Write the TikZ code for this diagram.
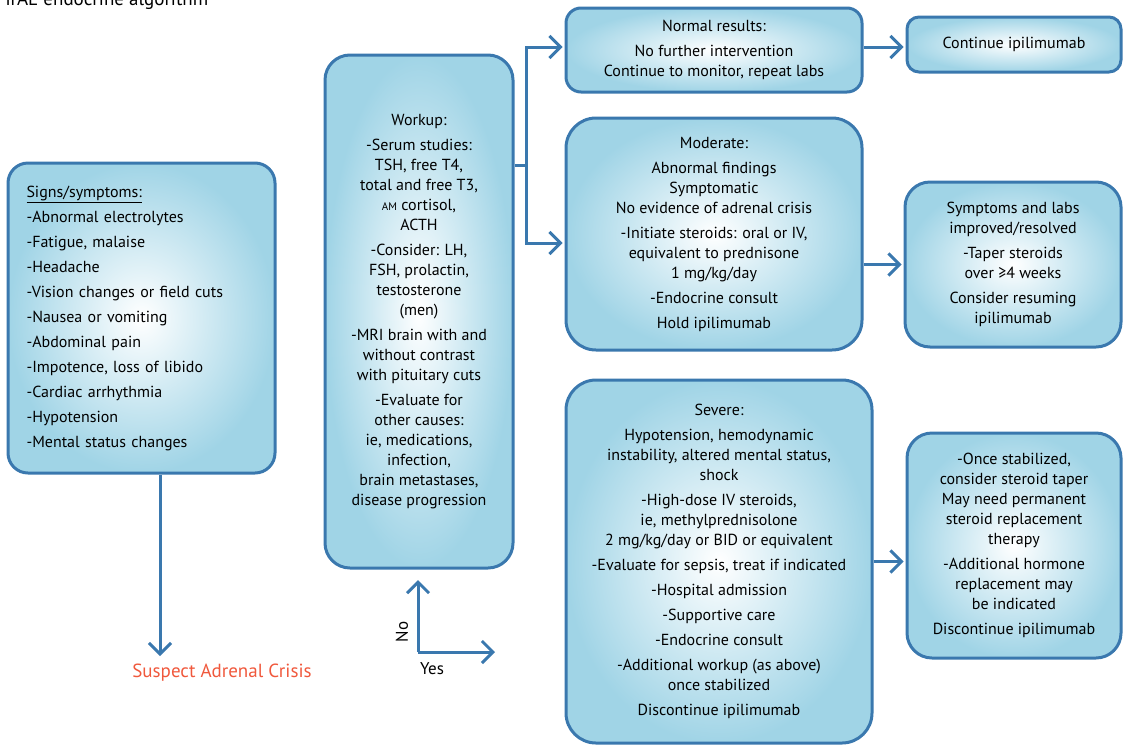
\documentclass[tikz,border=0pt]{standalone}
\usepackage{fontspec}
\setmainfont{PT Sans}
\usetikzlibrary{arrows.meta}
\definecolor{boxline}{RGB}{58,120,174}
\definecolor{boxfill}{RGB}{160,212,230}
\definecolor{crisisred}{RGB}{240,88,60}

\begin{document}
\begin{tikzpicture}[x=1pt, y=-1pt,
    box/.style={draw=boxline, line width=3pt, rounded corners=#1, shading=radial,
      inner color=white, outer color=boxfill, align=center, inner sep=0pt,
      font=\fontsize{16}{20}\selectfont},
    box/.default=20pt,
    arr/.style={draw=boxline, line width=3pt, shorten >=2pt,
      -{Straight Barb[length=11pt,width=22pt]}},
    lin/.style={draw=boxline, line width=3pt}]

    \useasboundingbox (0,0) rectangle (1123,745);

    %TITLE
    \node[anchor=base west, font=\fontsize{19}{19}\selectfont] (title) at (2,5) {irAE endocrine algorithm};

    %BOXES
    \node[box, minimum width=267pt, minimum height=310pt, text width=230pt, align=left,
      font=\fontsize{16}{25}\selectfont] (signs) at (141.5,318) {\underline{Signs/symptoms:}\\
      -Abnormal electrolytes\\ -Fatigue, malaise\\ -Headache\\ -Vision changes or field cuts\\
      -Nausea or vomiting\\ -Abdominal pain\\ -Impotence, loss of libido\\ -Cardiac arrhythmia\\
      -Hypotension\\ -Mental status changes};

    \node[box=25pt, minimum width=188pt, minimum height=513pt] (workup) at (419,311.5) {Workup:\\[5pt]
      -Serum studies:\\ TSH, free T4,\\ total and free T3,\\ {\fontsize{11}{11}\selectfont AM} cortisol,\\ ACTH\\[5pt]
      -Consider: LH,\\ FSH, prolactin,\\ testosterone\\ (men)\\[5pt]
      -MRI brain with and\\ without contrast\\ with pituitary cuts\\[5pt]
      -Evaluate for\\ other causes:\\ ie, medications,\\ infection,\\ brain metastases,\\ disease progression};

    \node[box=15pt, minimum width=296pt, minimum height=84pt] (normal) at (714,50) {Normal results:\\[5pt]
      No further intervention\\ Continue to monitor, repeat labs};

    \node[box=12pt, minimum width=214pt, minimum height=55pt] (cont) at (1014,44.5) {Continue ipilimumab};

    \node[box=30pt, minimum width=296pt, minimum height=232pt] (moderate) at (714,234) {Moderate:\\[5pt]
      Abnormal findings\\ Symptomatic\\ No evidence of adrenal crisis\\[5pt]
      -Initiate steroids: oral or IV,\\ equivalent to prednisone\\ 1 mg/kg/day\\[5pt]
      -Endocrine consult\\[5pt] Hold ipilimumab};

    \node[box=25pt, minimum width=216pt, minimum height=165pt] (symptoms) at (1013,264.5) {Symptoms and labs\\ improved/resolved\\[5pt]
      -Taper steroids\\ over ≥4 weeks\\[5pt] Consider resuming\\ ipilimumab};

    \node[box=30pt, minimum width=306pt, minimum height=363pt] (severe) at (719,561.5) {Severe:\\[5pt]
      Hypotension, hemodynamic\\ instability, altered mental status,\\ shock\\[5pt]
      -High-dose IV steroids,\\ ie, methylprednisolone\\ 2 mg/kg/day or BID or equivalent\\[5pt]
      -Evaluate for sepsis, treat if indicated\\[5pt] -Hospital admission\\[5pt]
      -Supportive care\\[5pt] -Endocrine consult\\[5pt]
      -Additional workup (as above)\\ once stabilized\\[5pt] Discontinue ipilimumab};

    \node[box=25pt, minimum width=214pt, minimum height=225pt] (stab) at (1014,545.5) {-Once stabilized,\\ consider steroid taper\\
      May need permanent\\ steroid replacement\\ therapy\\[5pt]
      -Additional hormone\\ replacement may\\ be indicated\\[5pt] Discontinue ipilimumab};

    %LABELS
    \node[text=crisisred, font=\fontsize{19}{19}\selectfont] (crisis) at (222,673) {Suspect Adrenal Crisis};
    \node[rotate=90, font=\fontsize{17}{17}\selectfont] (no) at (402,632) {No};
    \node[font=\fontsize{17}{17}\selectfont] (yes) at (432,669) {Yes};

    %ARROWS
    \coordinate (split) at (526,165);
    \coordinate (down) at (160,658);
    \coordinate (corner) at (418,652);
    \coordinate (noend) at (418,578);
    \coordinate (yesend) at (497,652);

    \draw[lin] (workup.east |- split) -- (split);
    \draw[arr] (split) |- (normal.west |- 0,47);
    \draw[arr] (split) |- (moderate.west |- 0,243);
    \draw[arr] (normal.east |- 0,47) -- (cont.west |- 0,47);
    \draw[arr] (moderate.east |- symptoms.west) -- (symptoms.west);
    \draw[arr] (severe.east) -- (severe.east -| stab.west);
    \draw[arr] (signs.south -| down) -- (down);
    \draw[arr] (corner) -- (noend);
    \draw[arr] (corner) -- (yesend);
\end{tikzpicture}
\end{document}
